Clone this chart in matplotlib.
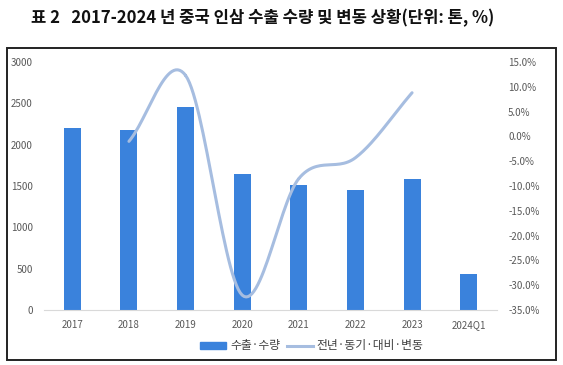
# 2017-2024 china ginseng export volume and yoy change

import numpy as np
import matplotlib.pyplot as plt
from matplotlib.patches import Rectangle

years = ['2017', '2018', '2019', '2020', '2021', '2022', '2023', '2024Q1']
export_tons = [2200, 2180, 2450, 1650, 1510, 1450, 1580, 430]
yoy_change = [-1.0, 12.3, -32.0, -8.5, -4.3, 8.8]  # 2018..2023, %

plt.rcParams['font.family'] = ['Noto Sans CJK KR', 'DejaVu Sans']


def catmull_rom(xs, ys, n=30):
    # smooth curve through the points, like excel's smoothed line
    px = np.concatenate([[2 * xs[0] - xs[1]], xs, [2 * xs[-1] - xs[-2]]])
    py = np.concatenate([[2 * ys[0] - ys[1]], ys, [2 * ys[-1] - ys[-2]]])
    out_x, out_y = [], []
    for i in range(1, len(px) - 2):
        t = np.linspace(0, 1, n)
        for p, out in ((px, out_x), (py, out_y)):
            p0, p1, p2, p3 = p[i - 1], p[i], p[i + 1], p[i + 2]
            out.extend(0.5 * ((2 * p1) + (-p0 + p2) * t
                              + (2 * p0 - 5 * p1 + 4 * p2 - p3) * t ** 2
                              + (-p0 + 3 * p1 - 3 * p2 + p3) * t ** 3))
    return np.array(out_x), np.array(out_y)


fig = plt.figure(figsize=(5.63, 3.65), dpi=100)
W, H = 563, 365

# outer frame
fig.patches.append(Rectangle((7 / W, 1 - 360 / H), (556 - 7) / W, (360 - 48) / H,
                             transform=fig.transFigure, fill=False,
                             edgecolor='#222222', linewidth=1.4))

fig.text(263 / W, 1 - 18 / H, '표 2   2017-2024 년 중국 인삼 수출 수량 및 변동 상황(단위: 톤, %)',
         ha='center', va='center', fontsize=12, fontweight='bold', color='#111111')

ax = fig.add_axes((44 / W, 1 - 310 / H, (497 - 44) / W, (310 - 62) / H))
x = np.arange(len(years))
bar_color = '#3a82dc'
line_color = '#a6bde0'
ax.bar(x, export_tons, width=0.3, color=bar_color, zorder=2)
ax.set_ylim(0, 3000)
ax.set_xlim(-0.5, len(years) - 0.5)
ax.set_yticks(range(0, 3001, 500))
ax.set_xticks(x)
ax.set_xticklabels(years)

for s in ('top', 'right', 'left'):
    ax.spines[s].set_visible(False)
ax.spines['bottom'].set_color('#d9d9d9')
ax.tick_params(length=0, labelsize=7, labelcolor='#595959')
ax.tick_params(axis='y', pad=8)
ax.tick_params(axis='x', pad=7)

ax2 = ax.twinx()
ax2.set_ylim(-35, 15)
ax2.set_yticks(range(-35, 16, 5))
ax2.set_yticklabels(['{:.1f}%'.format(v) for v in range(-35, 16, 5)])
for s in ax2.spines.values():
    s.set_visible(False)
ax2.tick_params(length=0, labelsize=7, labelcolor='#595959', pad=8)

sx, sy = catmull_rom(x[1:7].astype(float), np.array(yoy_change))
ax2.plot(sx, sy, color=line_color, linewidth=2.2, solid_capstyle='round', zorder=3)

h1 = Rectangle((0, 0), 1, 1, color=bar_color)
h2 = plt.Line2D([], [], color=line_color, linewidth=2.2)
fig.legend([h1, h2], ['수출·수량', '전년·동기·대비·변동'], loc='center',
           bbox_to_anchor=(312 / W, 1 - 346 / H), ncol=2, frameon=False,
           fontsize=8.5, handlelength=2.2, handleheight=0.6, columnspacing=0.6,
           handletextpad=0.3, labelcolor='#404040')

plt.savefig('out.png', dpi=100)
plt.close()
